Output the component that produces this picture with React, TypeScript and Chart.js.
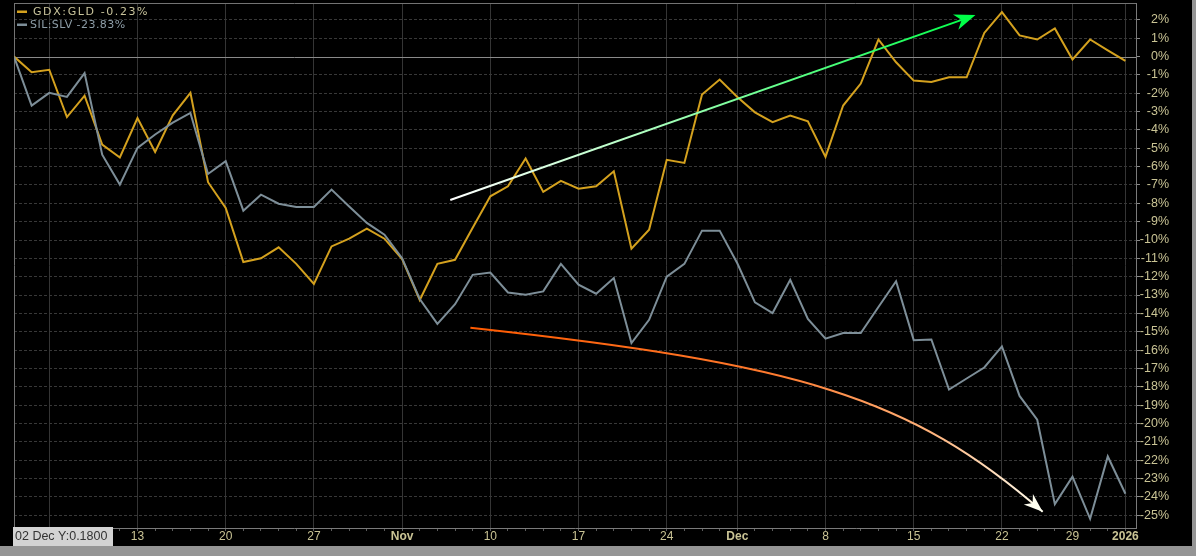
import { useEffect, useRef } from 'react';
import { Chart, registerables } from 'chart.js';

Chart.register(...registerables);

const FONT = "'Liberation Sans', Arial, sans-serif";
const LEGEND_FONT = "'DejaVu Sans', Verdana, sans-serif";

// trading days, Oct 2 2025 .. Jan 2 2026
const tradingDays = [
  '2025-10-02', '2025-10-03',
  '2025-10-06', '2025-10-07', '2025-10-08', '2025-10-09', '2025-10-10',
  '2025-10-13', '2025-10-14', '2025-10-15', '2025-10-16', '2025-10-17',
  '2025-10-20', '2025-10-21', '2025-10-22', '2025-10-23', '2025-10-24',
  '2025-10-27', '2025-10-28', '2025-10-29', '2025-10-30', '2025-10-31',
  '2025-11-03', '2025-11-04', '2025-11-05', '2025-11-06', '2025-11-07',
  '2025-11-10', '2025-11-11', '2025-11-12', '2025-11-13', '2025-11-14',
  '2025-11-17', '2025-11-18', '2025-11-19', '2025-11-20', '2025-11-21',
  '2025-11-24', '2025-11-25', '2025-11-26', '2025-11-28',
  '2025-12-01', '2025-12-02', '2025-12-03', '2025-12-04', '2025-12-05',
  '2025-12-08', '2025-12-09', '2025-12-10', '2025-12-11', '2025-12-12',
  '2025-12-15', '2025-12-16', '2025-12-17', '2025-12-18', '2025-12-19',
  '2025-12-22', '2025-12-23', '2025-12-24', '2025-12-26',
  '2025-12-29', '2025-12-30', '2025-12-31',
  '2026-01-02',
];

// % change since start
const gdxGld = [
  0, -0.85, -0.72, -3.3, -2.13, -4.8, -5.5, -3.35, -5.2, -3.2,
  -1.98, -6.85, -8.25, -11.2, -11.0, -10.4, -11.3, -12.4, -10.35, -9.93,
  -9.38, -9.93, -11.04, -13.27, -11.3, -11.08, -9.33, -7.62, -7.07, -5.56,
  -7.38, -6.78, -7.2, -7.07, -6.25, -10.47, -9.44, -5.63, -5.8, -2.07,
  -1.25, -2.2, -3.04, -3.58, -3.22, -3.53, -5.47, -2.67, -1.47, 0.93,
  -0.31, -1.31, -1.38, -1.13, -1.13, 1.29, 2.42, 1.15, 0.93, 1.53,
  -0.16, 0.93, 0.34, -0.23,
];

const silSlv = [
  0, -2.67, -1.98, -2.2, -0.9, -5.35, -6.98, -4.98, -4.25, -3.6,
  -3.07, -6.4, -5.7, -8.4, -7.53, -8.02, -8.2, -8.2, -7.25, -8.17,
  -9.07, -9.71, -10.99, -13.22, -14.57, -13.5, -11.9, -11.77, -12.86, -12.98,
  -12.8, -11.3, -12.44, -12.93, -12.07, -15.62, -14.35, -12.0, -11.3, -9.49,
  -9.49, -11.27, -13.4, -13.98, -12.17, -14.3, -15.38, -15.07, -15.07, -13.65,
  -12.25, -15.46, -15.42, -18.15, -17.55, -16.95, -15.8, -18.5, -19.8, -24.4,
  -22.9, -25.2, -21.8, -23.83,
];

const yTicks = [
  2, 1, 0, -1, -2, -3, -4, -5, -6, -7, -8, -9, -10, -11, -12, -13,
  -14, -15, -16, -17, -18, -19, -20, -21, -22, -23, -24, -25,
];

// drawn annotations, in (day index, %) units
const upArrow = [{ x: 24.73, y: -7.82 }, { x: 54.5, y: 2.26 }];
const downArrow = [
  { x: 25.87, y: -14.79 },
  { x: 44.58, y: -16.75 },
  { x: 50.82, y: -18.55 },
  { x: 58.31, y: -24.81 },
];

const MONTHS = ['Jan', 'Feb', 'Mar', 'Apr', 'May', 'Jun', 'Jul', 'Aug', 'Sep', 'Oct', 'Nov', 'Dec'];

const xMajor: boolean[] = [];
const xLabels = tradingDays.map((d, i) => {
  xMajor.push(false);
  if (i === 0) return '';
  const [y, m, day] = d.split('-').map(Number);
  const [py, pm] = tradingDays[i - 1].split('-').map(Number);
  if (y !== py) { xMajor[i] = true; return String(y); }
  if (m !== pm) { xMajor[i] = true; return MONTHS[m - 1]; }
  if (new Date(y, m - 1, day).getDay() === 1) return String(day);
  return '';
});

function arrowHead(ctx: CanvasRenderingContext2D, x: number, y: number, ang: number, len: number, half: number, color: string) {
  const cos = Math.cos(ang), sin = Math.sin(ang);
  const bx = x - cos * len, by = y - sin * len;
  const nx = x - cos * len * 0.7, ny = y - sin * len * 0.7;
  ctx.fillStyle = color;
  ctx.beginPath();
  ctx.moveTo(x, y);
  ctx.lineTo(bx - sin * half, by + cos * half);
  ctx.lineTo(nx, ny);
  ctx.lineTo(bx + sin * half, by - cos * half);
  ctx.closePath();
  ctx.fill();
}

const decorPlugin = {
  id: 'decor',
  afterLayout(chart: any) {
    // right-aligned % labels end a bit inside the canvas edge
    const y = chart.scales.y;
    y.right = y.left + 33;
  },
  beforeDatasetsDraw(chart: any) {
    const { ctx, chartArea: a, scales } = chart;
    const y0 = Math.round(scales.y.getPixelForValue(0)) + 0.5;
    ctx.save();
    ctx.lineWidth = 1;
    ctx.strokeStyle = '#8a8a8a';
    ctx.beginPath();
    ctx.moveTo(a.left, y0);
    ctx.lineTo(a.right, y0);
    ctx.stroke();
    ctx.strokeStyle = '#737373';
    ctx.beginPath();
    ctx.moveTo(a.left, a.top + 0.5);
    ctx.lineTo(a.right, a.top + 0.5);
    ctx.moveTo(a.left + 0.5, a.top);
    ctx.lineTo(a.left + 0.5, a.bottom);
    ctx.stroke();
    ctx.restore();
  },
  afterDatasetsDraw(chart: any) {
    const { ctx, scales } = chart;
    const px = (p: { x: number; y: number }) => [scales.x.getPixelForValue(p.x), scales.y.getPixelForValue(p.y)];
    ctx.save();
    ctx.lineWidth = 2;

    // rising trend arrow
    const [ux0, uy0] = px(upArrow[0]);
    const [ux1, uy1] = px(upArrow[1]);
    const g1 = ctx.createLinearGradient(ux0, uy0, ux1, uy1);
    g1.addColorStop(0, '#ffffff');
    g1.addColorStop(0.35, '#b4ffc4');
    g1.addColorStop(0.65, '#5cff86');
    g1.addColorStop(1, '#00ff48');
    ctx.strokeStyle = g1;
    const ua = Math.atan2(uy1 - uy0, ux1 - ux0);
    ctx.beginPath();
    ctx.moveTo(ux0, uy0);
    ctx.lineTo(ux1 - Math.cos(ua) * 10, uy1 - Math.sin(ua) * 10);
    ctx.stroke();
    arrowHead(ctx, ux1, uy1, ua, 21, 8, '#00ff48');

    // falling curve arrow
    const [d0x, d0y] = px(downArrow[0]);
    const [c1x, c1y] = px(downArrow[1]);
    const [c2x, c2y] = px(downArrow[2]);
    const [d1x, d1y] = px(downArrow[3]);
    const g2 = ctx.createLinearGradient(d0x, d0y, d1x, d1y);
    g2.addColorStop(0, '#ff5a00');
    g2.addColorStop(0.5, '#ff7a2e');
    g2.addColorStop(0.78, '#ffb27a');
    g2.addColorStop(1, '#fffff0');
    ctx.strokeStyle = g2;
    ctx.beginPath();
    ctx.moveTo(d0x, d0y);
    ctx.bezierCurveTo(c1x, c1y, c2x, c2y, d1x, d1y);
    ctx.stroke();
    arrowHead(ctx, d1x, d1y, Math.atan2(d1y - c2y, d1x - c2x), 19, 7, '#fffff0');
    ctx.restore();
  },
  afterDraw(chart: any) {
    const { ctx } = chart;
    ctx.save();
    ctx.textBaseline = 'middle';
    ctx.font = `11px ${LEGEND_FONT}`;
    ctx.fillStyle = '#d4a11e';
    ctx.fillRect(17, 10.5, 10, 2.5);
    ctx.letterSpacing = '1.6px';
    ctx.fillStyle = '#c9c49c';
    ctx.fillText('GDX:GLD -0.23%', 33, 12);
    ctx.fillStyle = '#7d8e98';
    ctx.fillRect(17, 23.5, 10, 2.5);
    ctx.letterSpacing = '0.45px';
    ctx.fillStyle = '#8e9ea8';
    ctx.fillText('SIL:SLV -23.83%', 30, 25);
    ctx.letterSpacing = '0px';

    // crosshair readout box
    ctx.fillStyle = '#d3d3d3';
    ctx.fillRect(13, 527, 100, 19);
    ctx.fillStyle = '#333333';
    ctx.font = `12.5px ${FONT}`;
    ctx.fillText('02 Dec Y:0.1800', 15, 537);
    ctx.restore();
  },
};

export default function App() {
  const canvasRef = useRef<HTMLCanvasElement>(null);

  useEffect(() => {
    document.body.style.margin = '0';
    document.body.style.background = '#959595';
    if (!canvasRef.current) return;

    const chart = new Chart(canvasRef.current, {
      type: 'line',
      data: {
        datasets: [
          {
            label: 'SIL:SLV',
            data: silSlv.map((v, i) => ({ x: i, y: v })),
            borderColor: '#7d8e98',
          },
          {
            label: 'GDX:GLD',
            data: gdxGld.map((v, i) => ({ x: i, y: v })),
            borderColor: '#d4a11e',
          },
        ],
      },
      options: {
        animation: false,
        responsive: false,
        events: [],
        layout: { padding: { left: 14, top: 3, right: 0, bottom: 0 } },
        elements: {
          point: { radius: 0 },
          line: { borderWidth: 2, tension: 0 },
        },
        plugins: {
          legend: { display: false },
          tooltip: { enabled: false },
        },
        scales: {
          x: {
            type: 'linear',
            min: 0,
            max: 63.6,
            afterBuildTicks: (s: any) => {
              s.ticks = tradingDays.map((_, i) => ({ value: i }));
            },
            afterFit: (s: any) => {
              s.height = 18;
              s.paddingLeft = 0;
              s.paddingRight = 0;
            },
            grid: {
              color: (c: any) => (xLabels[c.index] ? '#353535' : 'transparent'),
              tickColor: '#5c5c5c',
              tickLength: 3,
            },
            border: { color: '#7a7a7a' },
            ticks: {
              autoSkip: false,
              maxRotation: 0,
              padding: -2,
              color: '#cac495',
              font: (c: any) => ({ family: FONT, size: 12, weight: xMajor[c.index] ? 'bold' : 'normal' }),
              callback: (_v: any, i: number) => xLabels[i],
            },
          },
          y: {
            position: 'right',
            min: -25.7,
            max: 2.92,
            afterBuildTicks: (s: any) => {
              s.ticks = yTicks.map((v) => ({ value: v }));
            },
            afterFit: (s: any) => {
              s.width = 56;
              s.paddingTop = 0;
              s.paddingBottom = 0;
            },
            grid: {
              color: (c: any) => (c.tick && c.tick.value === 0 ? 'transparent' : '#383838'),
              tickColor: '#8a8a8a',
              tickLength: 4,
            },
            border: { color: '#7a7a7a', dash: [3, 2] },
            ticks: {
              crossAlign: 'far',
              padding: 2,
              color: '#cac495',
              font: { family: FONT, size: 12.5 },
              callback: (v: any) => `${v}%`,
            },
          },
        },
      } as any,
      plugins: [decorPlugin],
    });

    return () => {
      chart.destroy();
    };
  }, []);

  return (
    <div style={{ width: 1192, height: 546, background: '#000' }}>
      <canvas ref={canvasRef} width={1192} height={546} style={{ display: 'block' }} />
    </div>
  );
}
